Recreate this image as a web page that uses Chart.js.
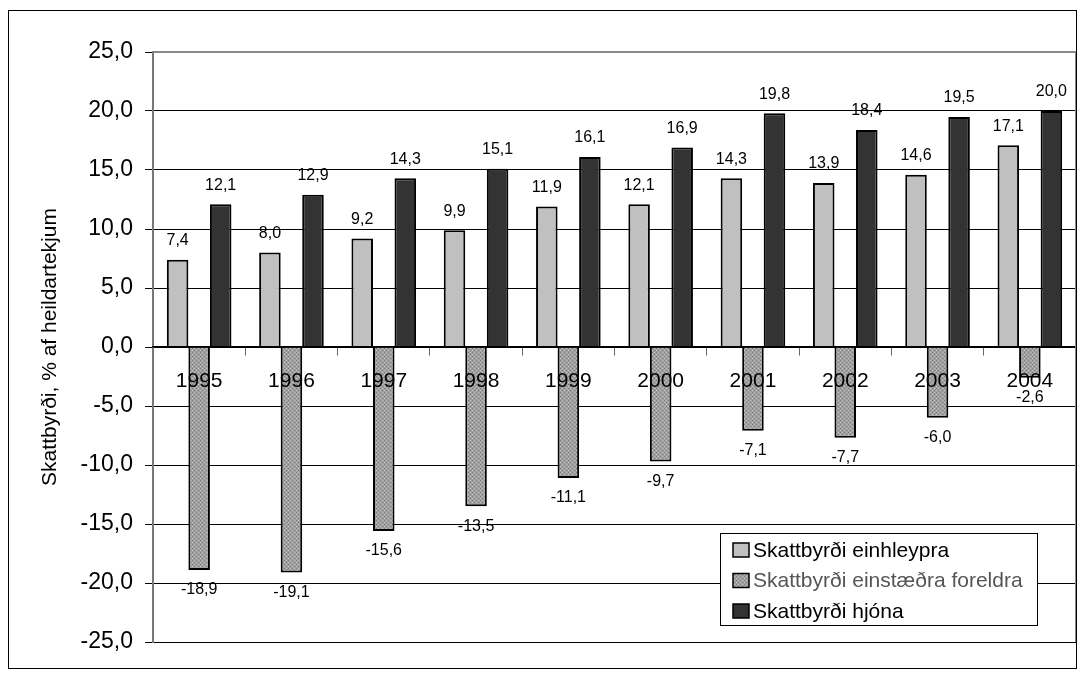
<!DOCTYPE html>
<html>
<head>
<meta charset="utf-8">
<script src="https://cdn.jsdelivr.net/npm/chart.js@4/dist/chart.umd.min.js"></script>
<style>
  html, body { margin: 0; padding: 0; background: #fff; }
  #wrap { width: 1083px; height: 677px; }
</style>
</head>
<body>
<div id="wrap"><canvas id="myChart"></canvas></div>
<script>
const years = ["1995", "1996", "1997", "1998", "1999", "2000", "2001", "2002", "2003", "2004"];
const einhleypra = [7.4, 8.0, 9.2, 9.9, 11.9, 12.1, 14.3, 13.9, 14.6, 17.1];
const einstaedra = [-18.9, -19.1, -15.6, -13.5, -11.1, -9.7, -7.1, -7.7, -6.0, -2.6];
const hjona = [12.1, 12.9, 14.3, 15.1, 16.1, 16.9, 19.8, 18.4, 19.5, 20.0];
const seriesNames = ["Skattbyrði einhleypra", "Skattbyrði einstæðra foreldra", "Skattbyrði hjóna"];

const FONT = "'Liberation Sans', Arial, sans-serif";
const fmt = (v) => v.toFixed(1).replace(".", ",");

// dotted grey fill like the old excel pattern
function makePattern() {
  const c = document.createElement("canvas");
  c.width = 4;
  c.height = 4;
  const g = c.getContext("2d");
  g.fillStyle = "#a0a0a0";
  g.fillRect(0, 0, 4, 4);
  g.fillStyle = "#7a7a7a";
  g.fillRect(0, 0, 1, 1);
  g.fillRect(2, 2, 1, 1);
  g.fillStyle = "#c4c4c4";
  g.fillRect(2, 0, 1, 1);
  g.fillRect(0, 2, 1, 1);
  return g.createPattern(c, "repeat");
}
const hatch = makePattern();
const fills = ["#c0c0c0", hatch, "#333333"];

const valueLabels = {
  id: "valueLabels",
  afterDatasetsDraw(chart) {
    const ctx = chart.ctx;
    ctx.save();
    ctx.fillStyle = "#000";
    ctx.textAlign = "center";
    ctx.textBaseline = "middle";
    ctx.font = "16px " + FONT;
    chart.data.datasets.forEach((ds, i) => {
      const meta = chart.getDatasetMeta(i);
      meta.data.forEach((bar, j) => {
        const v = ds.data[j];
        const y = v >= 0 ? bar.y - 19 : bar.y + 20;
        ctx.fillText(fmt(v), bar.x, y);
      });
    });
    ctx.restore();
  }
};

const frameAndLegend = {
  id: "frameAndLegend",
  afterDraw(chart) {
    const ctx = chart.ctx;
    const a = chart.chartArea;
    ctx.save();
    // grey plot border top/right
    ctx.strokeStyle = "#888";
    ctx.lineWidth = 2;
    ctx.beginPath();
    ctx.moveTo(a.left, a.top);
    ctx.lineTo(a.right, a.top);
    ctx.lineTo(a.right, a.bottom);
    ctx.stroke();
    // outer frame
    ctx.strokeStyle = "#000";
    ctx.lineWidth = 1;
    ctx.strokeRect(8.5, 10.5, 1068, 658);
    // legend box
    const lx = 720, ly = 533, lw = 317, lh = 92;
    ctx.fillStyle = "#fff";
    ctx.fillRect(lx, ly, lw, lh);
    ctx.strokeRect(lx + 0.5, ly + 0.5, lw, lh);
    ctx.font = "21px " + FONT;
    ctx.textBaseline = "middle";
    ctx.textAlign = "left";
    seriesNames.forEach((name, i) => {
      const cy = ly + 17 + i * 30.5;
      ctx.fillStyle = fills[i];
      ctx.fillRect(lx + 13, cy - 7, 16, 14);
      ctx.lineWidth = 1.5;
      ctx.strokeStyle = "#000";
      ctx.strokeRect(lx + 13, cy - 7, 16, 14);
      ctx.fillStyle = i === 1 ? "#555" : "#000";
      ctx.fillText(name, lx + 33, cy + 1);
    });
    ctx.restore();
  }
};

const data = {
  labels: years,
  datasets: [
    { label: seriesNames[0], data: einhleypra, backgroundColor: fills[0], borderColor: "#000", borderWidth: 2 },
    { label: seriesNames[1], data: einstaedra, backgroundColor: fills[1], borderColor: "#000", borderWidth: 2 },
    { label: seriesNames[2], data: hjona, backgroundColor: fills[2], borderColor: "#000", borderWidth: 2 },
  ],
};

const config = {
  type: "bar",
  data: data,
  options: {
    responsive: true,
    maintainAspectRatio: false,
    animation: false,
    layout: { padding: { left: 0, top: 52, right: 7, bottom: 35 } },
    datasets: { bar: { categoryPercentage: 0.7, barPercentage: 1.0 } },
    plugins: {
      legend: { display: false },
      tooltip: { enabled: false },
    },
    scales: {
      x: {
        position: { y: 0 },
        offset: true,
        grid: {
          offset: true,
          drawOnChartArea: false,
          drawTicks: true,
          tickLength: 8,
          color: "#666",
        },
        border: { display: true, color: "#000", width: 1.5, z: 1 },
        ticks: {
          z: 1,
          color: "#000",
          padding: 14,
          maxRotation: 0,
          font: { size: 21, family: FONT },
        },
      },
      y: {
        min: -25,
        max: 25,
        afterFit: (s) => { s.width = 153; },
        grid: {
          color: "#000",
          lineWidth: 1,
          tickLength: 8,
        },
        border: { display: true, color: "#777", width: 2 },
        ticks: {
          stepSize: 5,
          color: "#000",
          padding: 12,
          font: { size: 23, family: FONT },
          callback: (v) => fmt(v),
        },
        title: {
          display: true,
          text: "Skattbyrði, % af heildartekjum",
          color: "#000",
          padding: { top: 38, bottom: 0 },
          font: { size: 21, family: FONT },
        },
      },
    },
  },
  plugins: [valueLabels, frameAndLegend],
};

new Chart(document.getElementById("myChart"), config);
</script>
</body>
</html>
